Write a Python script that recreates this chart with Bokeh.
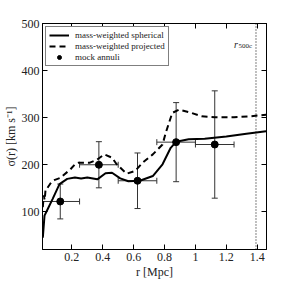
from bokeh.plotting import figure
from bokeh.models import ColumnDataSource, Whisker, TeeHead, LinearAxis, FixedTicker, Span, Legend, LegendItem
from bokeh.core.properties import value
from bokeh.embed import file_html
from bokeh.resources import INLINE

# --- data ---
sph_r = [0.012, 0.023, 0.044, 0.075, 0.12, 0.17, 0.22, 0.26, 0.30, 0.365, 0.418, 0.46,
         0.513, 0.566, 0.64, 0.724, 0.787, 0.84, 0.876, 0.956, 1.06, 1.2, 1.33, 1.457]
sph_s = [45, 92, 106, 127, 159, 170, 173, 171, 173, 169, 182, 183,
         171, 165, 166, 176, 201, 236, 249, 254, 255, 260, 266, 271]

proj_r = [0.012, 0.018, 0.024, 0.03, 0.04, 0.065, 0.09, 0.124, 0.19, 0.22, 0.24, 0.313,
          0.36, 0.41, 0.46, 0.49, 0.555, 0.61, 0.66, 0.724, 0.787, 0.808, 0.85, 0.893,
          0.966, 1.04, 1.124, 1.25, 1.356, 1.457]
proj_s = [110, 135, 125, 148, 150, 162, 168, 172, 190, 201, 204, 204,
          210, 222, 215, 201, 181, 187, 205, 222, 243, 268, 310, 317,
          311, 303, 301, 301, 303, 306]

mock_r = [0.125, 0.375, 0.625, 0.875, 1.125]
mock_s = [122, 200, 166, 248, 243]
mock_rerr = [0.125, 0.125, 0.125, 0.125, 0.125]
mock_serr = [37, 49, 59, 84, 114]

r500c = 1.392
r500c_label_y = 452

x_ticks = [0.2, 0.4, 0.6, 0.8, 1.0, 1.2, 1.4]
y_ticks = [100, 200, 300, 400, 500]
x_lim = (0.01, 1.46)
y_lim = (20, 500)

FONT = "Liberation Serif"

p = figure(width=281, height=281, output_backend="svg", toolbar_location=None,
           x_range=x_lim, y_range=y_lim, min_border_left=37, min_border_right=15,
           min_border_top=23, min_border_bottom=31)
p.background_fill_color = "white"
p.border_fill_color = "white"
p.outline_line_color = "black"
p.outline_line_width = 1
p.grid.visible = False

def style_axis(ax, ticks, labels=True):
    ax.ticker = FixedTicker(ticks=ticks)
    ax.major_tick_in = 5
    ax.major_tick_out = 0
    ax.minor_tick_line_color = None
    ax.axis_line_color = "black"
    ax.major_tick_line_color = "black"
    ax.major_label_text_font = FONT
    ax.major_label_text_color = "#222222"
    ax.major_label_text_font_size = "12px"
    ax.major_label_standoff = 3
    ax.axis_label_text_font = FONT
    ax.axis_label_text_font_size = "12px"
    ax.axis_label_text_font_style = "normal"
    ax.axis_label_text_color = "#222222"
    ax.axis_label_standoff = 1
    if not labels:
        ax.major_label_overrides = {t: "" for t in ticks}
        ax.major_label_standoff = 0

style_axis(p.xaxis[0], x_ticks)
style_axis(p.yaxis[0], y_ticks)
p.xaxis[0].axis_label = "r [Mpc]"
p.yaxis[0].axis_label = "σ(r) [km s⁻¹]"

top = LinearAxis()
style_axis(top, x_ticks, labels=False)
p.add_layout(top, "above")
right = LinearAxis()
style_axis(right, y_ticks, labels=False)
p.add_layout(right, "right")

sph = p.line(sph_r, sph_s, line_color="black", line_width=2)
proj = p.line(proj_r, proj_s, line_color="black", line_width=2, line_dash="6 4")

src = ColumnDataSource(dict(
    r=mock_r, s=mock_s,
    rlo=[r - e for r, e in zip(mock_r, mock_rerr)],
    rhi=[r + e for r, e in zip(mock_r, mock_rerr)],
    slo=[s - e for s, e in zip(mock_s, mock_serr)],
    shi=[s + e for s, e in zip(mock_s, mock_serr)],
))
ecol = "#333333"
for dim, base, lo, hi in (("height", "r", "slo", "shi"), ("width", "s", "rlo", "rhi")):
    w = Whisker(source=src, base=base, lower=lo, upper=hi, dimension=dim,
                line_color=ecol, line_width=1,
                lower_head=TeeHead(size=6, line_color=ecol, line_width=1),
                upper_head=TeeHead(size=6, line_color=ecol, line_width=1))
    p.add_layout(w)
pts = p.scatter("r", "s", source=src, size=7, color="black")

p.add_layout(Span(location=r500c, dimension="height", line_color="black",
                  line_width=1, line_dash="1 2"))
p.text(x=[r500c], y=[r500c_label_y], text=["500c"], text_font=value(FONT),
       text_font_size="7px", text_align="right", text_baseline="alphabetic",
       x_offset=-4, text_color="#222222")
p.text(x=[r500c], y=[r500c_label_y], text=["r"], text_font=value(FONT),
       text_font_size="10px", text_font_style="italic", text_align="right",
       text_baseline="alphabetic", x_offset=-18, y_offset=-2, text_color="#222222")

legend = Legend(items=[
    LegendItem(label="mass-weighted spherical", renderers=[sph]),
    LegendItem(label="mass-weighted projected", renderers=[proj]),
    LegendItem(label="mock annuli", renderers=[pts]),
], location="top_left")
legend.label_text_font = FONT
legend.label_text_font_size = "9px"
legend.label_text_color = "#222222"
legend.glyph_width = 20
legend.glyph_height = 10
legend.label_height = 10
legend.spacing = 1
legend.padding = 3
legend.margin = 3
legend.label_standoff = 6
legend.border_line_color = "black"
legend.border_line_width = 1
legend.background_fill_alpha = 1
p.add_layout(legend)

open("out.html", "w").write(file_html(p, INLINE))
